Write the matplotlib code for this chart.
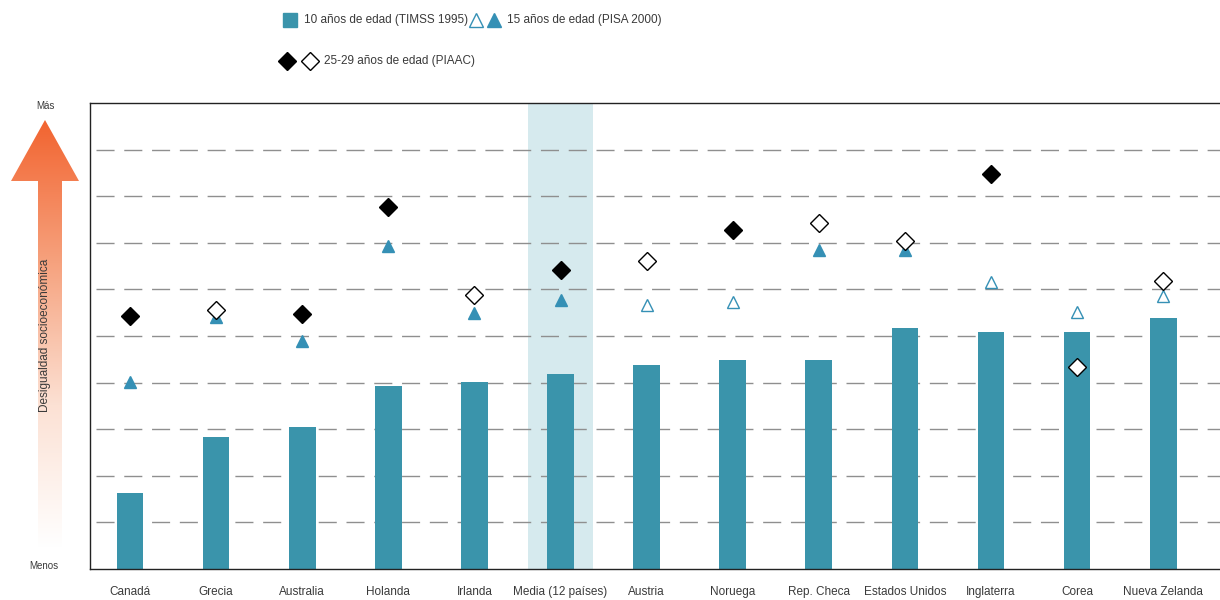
import numpy as np
import matplotlib
matplotlib.use("Agg")
import matplotlib.pyplot as plt
from matplotlib.patches import Polygon
from matplotlib.colors import LinearSegmentedColormap

plt.rcParams['font.family'] = ['Liberation Sans', 'DejaVu Sans']

countries = ["Canadá", "Grecia", "Australia", "Holanda", "Irlanda", "Media (12 países)",
             "Austria", "Noruega", "Rep. Checa", "Estados Unidos", "Inglaterra", "Corea",
             "Nueva Zelanda"]
timss_1995 = [1.63, 2.83, 3.05, 3.93, 4.01, 4.18, 4.38, 4.48, 4.48, 5.17, 5.09, 5.09, 5.39]
pisa_2000 = [4.01, 5.41, 4.89, 6.93, 5.49, 5.77, 5.67, 5.73, 6.85, 6.85, 6.16, 5.52, 5.86]
pisa_filled = [True, True, True, True, True, True, False, False, True, True, False, False, False]
piaac = [5.43, 5.56, 5.47, 7.77, 5.88, 6.42, 6.61, 7.27, 7.42, 7.04, 8.48, 4.33, 6.18]
piaac_filled = [True, False, True, True, False, True, False, True, False, False, True, False, False]
highlight = "Media (12 países)"

BAR = "#3A94AB"
TRI = "#3590B5"
BAND = "#D6EAEE"
TXT = "#3a3a3a"

fig = plt.figure(figsize=(12.2, 6), dpi=100)
ax = fig.add_axes([90/1220, 31/600, 1 - 90/1220, 466/600])

x = np.arange(len(countries))
hi = countries.index(highlight)
ax.axvspan(hi - 0.378, hi + 0.378, color=BAND, zorder=0, lw=0)
for yv in range(1, 10):
    ax.axhline(yv, xmin=0.005, color="#8f8f8f", lw=1.0, dashes=(13, 7), zorder=1)
ax.bar(x, timss_1995, width=0.31, color=BAR, zorder=2)

for xi, v, f in zip(x, pisa_2000, pisa_filled):
    ax.plot(xi, v, marker='^', ms=9, mfc=TRI if f else 'white', mec=TRI, mew=1.0,
            ls='none', zorder=3)
for xi, v, f in zip(x, piaac, piaac_filled):
    ax.plot(xi, v, marker='D', ms=9.5, mfc='black' if f else 'white', mec='black', mew=1.0,
            ls='none', zorder=4)

ax.set_xlim(-0.465, 12.66)
ax.set_ylim(0, 10)
ax.set_yticks([])
ax.set_xticks(x)
ax.set_xticklabels(countries, fontsize=8.5, color=TXT)
ax.tick_params(axis='x', length=0, pad=12.5)
for s in ['left', 'top', 'bottom']:
    ax.spines[s].set_color('#222222')
    ax.spines[s].set_linewidth(1.0)
ax.spines['right'].set_visible(False)

# overlay in pixel coordinates for arrow
ov = fig.add_axes([0, 0, 1, 1], zorder=-1)
ov.set_xlim(0, 1220)
ov.set_ylim(600, 0)
ov.axis('off')

arrow_pts = [(45, 120), (79, 181), (62, 181), (62, 548), (38, 548), (38, 181), (11, 181)]
poly = Polygon(arrow_pts, closed=True, facecolor='none', edgecolor='none')
ov.add_patch(poly)
grad = np.linspace(0, 1, 256).reshape(-1, 1)
cmap = LinearSegmentedColormap.from_list("g", ["#F26430", "#F6A27E", "#FCE1D4", "#FFFFFF"])
im = ov.imshow(grad, extent=(11, 79, 548, 120), cmap=cmap, aspect='auto', origin='upper')
im.set_clip_path(poly)

ov.text(45, 106, "Más", ha='center', va='center', fontsize=7, color=TXT)
ov.text(44, 566, "Menos", ha='center', va='center', fontsize=7, color=TXT)
ov.text(45, 335, "Desigualdad socioeconómica", ha='center', va='center', rotation=90,
        fontsize=8.5, color=TXT)

# legend (manual)
lg = fig.add_axes([0, 0, 1, 1], zorder=5)
lg.set_xlim(0, 1220)
lg.set_ylim(600, 0)
lg.axis('off')
lg.plot(290, 20, marker='s', ms=10, mfc=BAR, mec=BAR, ls='none')
lg.text(304, 20, "10 años de edad (TIMSS 1995)", va='center', fontsize=8.5, color=TXT)
lg.plot(476, 20, marker='^', ms=10, mfc='white', mec=TRI, mew=1.0, ls='none')
lg.plot(494, 20, marker='^', ms=10, mfc=TRI, mec=TRI, mew=1.0, ls='none')
lg.text(507, 20, "15 años de edad (PISA 2000)", va='center', fontsize=8.5, color=TXT)
lg.plot(287, 61, marker='D', ms=9.5, mfc='black', mec='black', mew=1.0, ls='none')
lg.plot(310, 61, marker='D', ms=9.5, mfc='white', mec='black', mew=1.0, ls='none')
lg.text(324, 61, "25-29 años de edad (PIAAC)", va='center', fontsize=8.5, color=TXT)

fig.savefig("out.png", dpi=100)
